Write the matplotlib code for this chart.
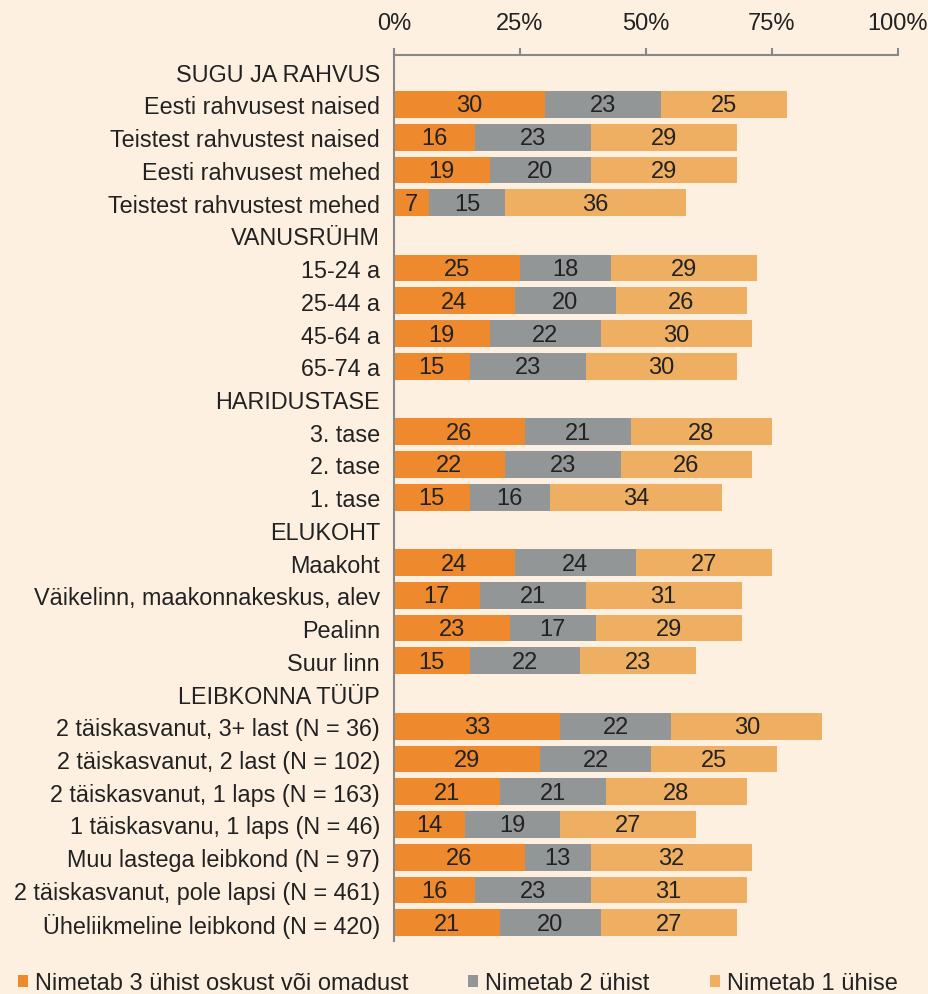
import matplotlib
matplotlib.use("Agg")
import matplotlib.pyplot as plt
from matplotlib.patches import Patch
import numpy as np

plt.rcParams['font.family'] = ['Liberation Sans', 'DejaVu Sans']

# rows from top to bottom; group headers have no bars (None)
labels = [
    "SUGU JA RAHVUS",
    "Eesti rahvusest naised",
    "Teistest rahvustest naised",
    "Eesti rahvusest mehed",
    "Teistest rahvustest mehed",
    "VANUSRÜHM",
    "15-24 a",
    "25-44 a",
    "45-64 a",
    "65-74 a",
    "HARIDUSTASE",
    "3. tase",
    "2. tase",
    "1. tase",
    "ELUKOHT",
    "Maakoht",
    "Väikelinn, maakonnakeskus, alev",
    "Pealinn",
    "Suur linn",
    "LEIBKONNA TÜÜP",
    "2 täiskasvanut, 3+ last (N = 36)",
    "2 täiskasvanut, 2 last (N = 102)",
    "2 täiskasvanut, 1 laps (N = 163)",
    "1 täiskasvanu, 1 laps (N = 46)",
    "Muu lastega leibkond (N = 97)",
    "2 täiskasvanut, pole lapsi (N = 461)",
    "Üheliikmeline leibkond (N = 420)",
]

three = [None, 30, 16, 19, 7, None, 25, 24, 19, 15, None, 26, 22, 15,
         None, 24, 17, 23, 15, None, 33, 29, 21, 14, 26, 16, 21]
two = [None, 23, 23, 20, 15, None, 18, 20, 22, 23, None, 21, 23, 16,
       None, 24, 21, 17, 22, None, 22, 22, 21, 19, 13, 23, 20]
one = [None, 25, 29, 29, 36, None, 29, 26, 30, 30, None, 28, 26, 34,
       None, 27, 31, 29, 23, None, 30, 25, 28, 27, 32, 31, 27]

series_names = ["Nimetab 3 ühist oskust või omadust", "Nimetab 2 ühist", "Nimetab 1 ühise"]
colors = ['#EE8A2D', '#939696', '#EFAF62']
bg = '#FDF0E1'
txt = '#222222'

fig = plt.figure(figsize=(9.29, 9.95), dpi=100, facecolor=bg)
ax = fig.add_axes([0.4241, 0.0533, 0.5425, 0.8907])
ax.set_facecolor(bg)

y = np.arange(len(labels))
left = np.zeros(len(labels))
for vals, col in zip([three, two, one], colors):
    v = np.array([np.nan if x is None else x for x in vals], dtype=float)
    mask = ~np.isnan(v)
    ax.barh(y[mask], v[mask], left=left[mask], height=0.815, color=col, linewidth=0)
    for yi, li, vi in zip(y[mask], left[mask], v[mask]):
        ax.text(li + vi / 2, yi + 0.03, f"{int(vi)}", ha='center', va='center',
                fontsize=17, color=txt)
    left[mask] += v[mask]

ax.set_xlim(0, 100)
ax.set_ylim(26.56, -0.52)
ax.set_yticks(y)
ax.set_yticklabels(labels, fontsize=16.8, color=txt)
ax.tick_params(axis='y', length=0, pad=10)

ax.xaxis.tick_top()
ax.set_xticks([0, 25, 50, 75, 100])
ax.set_xticklabels(["0%", "25%", "50%", "75%", "100%"], fontsize=17, color=txt)
ax.tick_params(axis='x', direction='out', length=5, width=1.5, color='#888888', pad=10)

for s in ['right', 'bottom']:
    ax.spines[s].set_visible(False)
for s in ['top', 'left']:
    ax.spines[s].set_color('#888888')
    ax.spines[s].set_linewidth(1.5)

handles = [Patch(facecolor=c, edgecolor='none') for c in colors]
fig.legend(handles, series_names, loc='center left', bbox_to_anchor=(0.019, 0.011),
           ncol=3, frameon=False, fontsize=17, handlelength=0.42, handleheight=0.42,
           handletextpad=0.3, columnspacing=2.55, borderpad=0, borderaxespad=0,
           labelcolor=txt)

fig.savefig("out.png", dpi=100, facecolor=bg)
